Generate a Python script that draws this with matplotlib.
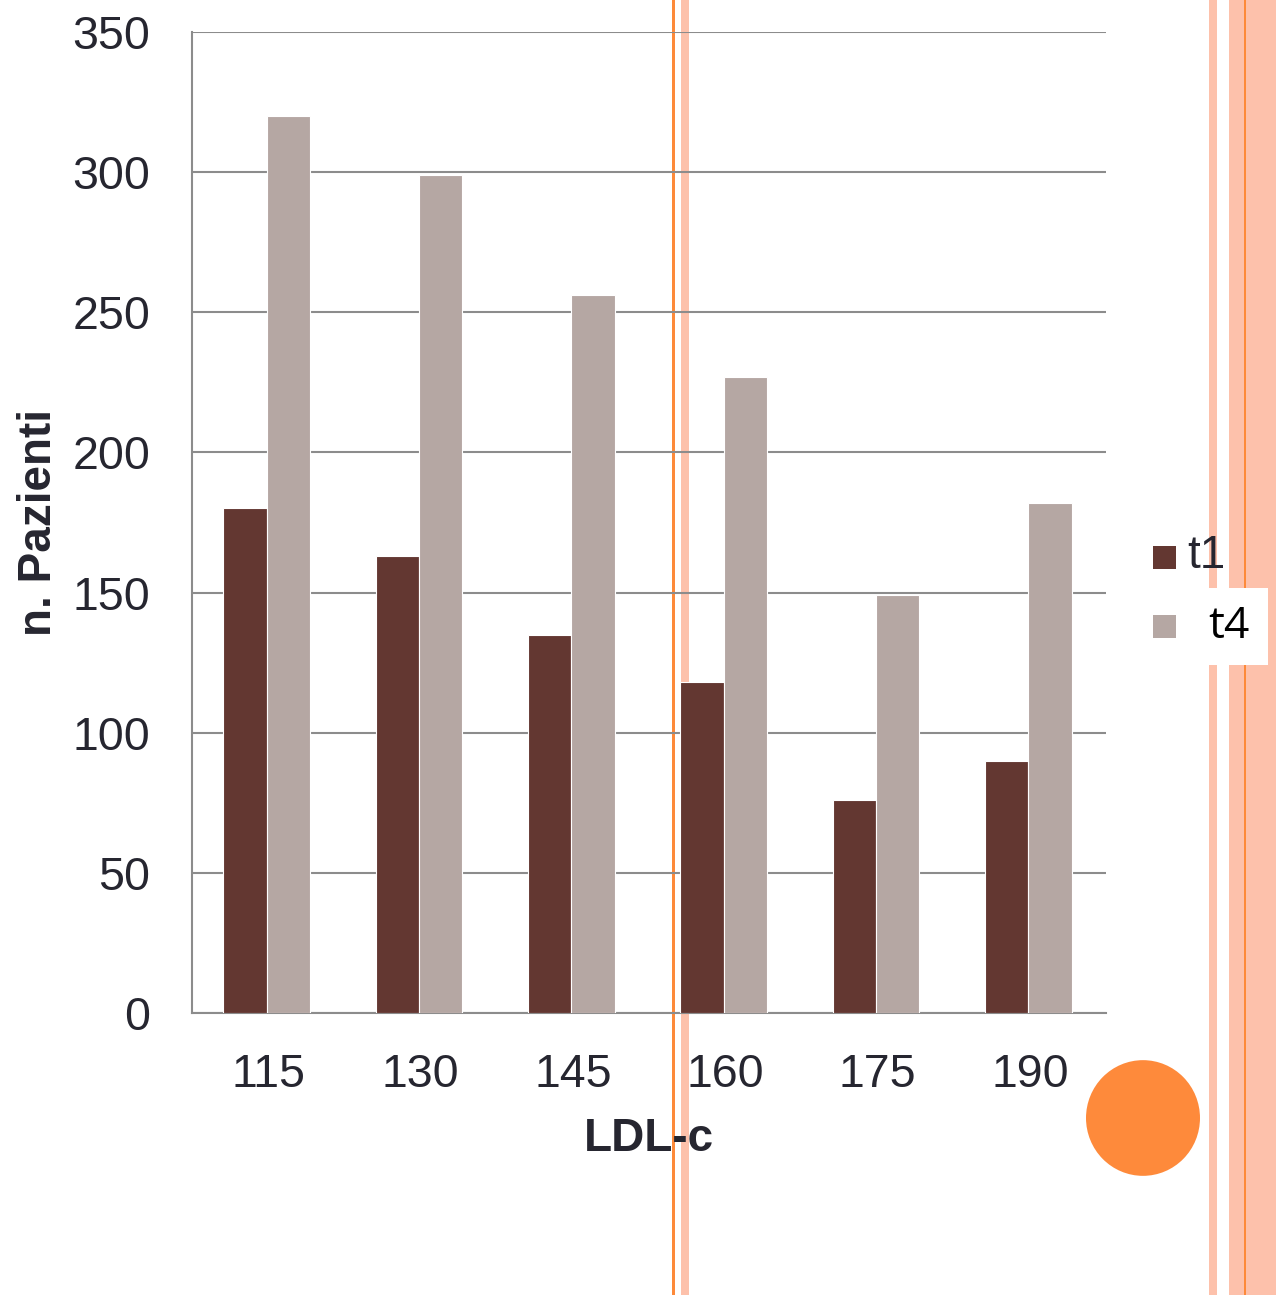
import numpy as np
import matplotlib.pyplot as plt
from matplotlib.patches import Rectangle, Circle

# Pazienti per classe di LDL-c
classi_ldl = ['115', '130', '145', '160', '175', '190']
pazienti_t1 = [180, 163, 135, 118, 76, 90]
pazienti_t4 = [320, 299, 256, 227, 149, 182]

COL_T1 = '#633731'
COL_T4 = '#b5a7a3'
COL_TESTO = '#262630'
COL_GRIGLIA = '#8c8c8c'
ARANCIO = '#fd8a3a'
ROSA = '#fdc1ab'

W, H = 1276, 1295
fig = plt.figure(figsize=(W / 100, H / 100), dpi=100)


def px_rect(x0, x1, y0, y1, colore, z=0):
    # rettangolo in pixel (origine in alto a sinistra)
    r = Rectangle((x0 / W, 1 - y1 / H), (x1 - x0) / W, (y1 - y0) / H,
                  transform=fig.transFigure, facecolor=colore,
                  edgecolor='none', zorder=z)
    fig.add_artist(r)
    return r


# decorazioni della diapositiva (sotto il grafico)
px_rect(672, 675, 0, H, ARANCIO, z=-5)
px_rect(681, 689, 0, H, ROSA, z=-5)
px_rect(1209, 1217, 0, H, ROSA, z=-5)
px_rect(1229, W, 0, H, ROSA, z=-5)
px_rect(1244, 1246, 0, H, ARANCIO, z=-5)
fig.add_artist(Circle((1143 / W, 1 - 1118 / H), 57 / W, transform=fig.transFigure,
                      facecolor='#fe8a3b', edgecolor='none', zorder=-5))

ax = fig.add_axes([192 / W, 1 - 1013 / H, 914 / W, 981 / H])
ax.patch.set_alpha(0)

x = np.arange(len(classi_ldl))
larg = 0.285
ax.bar(x - larg / 2 - 0.01, pazienti_t1, larg, color=COL_T1, edgecolor='white',
       linewidth=0.8, zorder=3)
ax.bar(x + larg / 2 - 0.01, pazienti_t4, larg, color=COL_T4, edgecolor='white',
       linewidth=0.8, zorder=3)

ax.set_xlim(-0.5, len(classi_ldl) - 0.5)
ax.set_ylim(0, 350)
ax.set_yticks(range(0, 351, 50))
ax.set_xticks(x)
ax.set_xticklabels(classi_ldl)
ax.yaxis.grid(True, color=COL_GRIGLIA, linewidth=1.5, zorder=1)
ax.set_axisbelow(True)

for lato in ['top', 'right']:
    ax.spines[lato].set_visible(False)
for lato in ['left', 'bottom']:
    ax.spines[lato].set_color(COL_GRIGLIA)
    ax.spines[lato].set_linewidth(1.5)

ax.tick_params(length=0, labelsize=33.5, labelcolor=COL_TESTO)
ax.tick_params(axis='y', pad=30)
ax.tick_params(axis='x', pad=29)
for t in ax.get_xticklabels() + ax.get_yticklabels():
    t.set_fontfamily('Liberation Sans')

ax.set_ylabel('n. Pazienti', fontsize=33, fontweight='bold', color=COL_TESTO,
              fontfamily='Liberation Sans', labelpad=8)
ax.set_xlabel('LDL-c', fontsize=33, fontweight='bold', color=COL_TESTO,
              fontfamily='Liberation Sans', labelpad=14)

# legenda
px_rect(1190, 1268, 588, 665, 'white', z=1)
px_rect(1153, 1176, 546, 569, COL_T1, z=2)
px_rect(1153, 1176, 615, 638, COL_T4, z=2)
fig.text(1187 / W, 1 - 556 / H, 't1', fontsize=33, color=COL_TESTO,
         fontfamily='Liberation Sans', va='center', ha='left', zorder=3)
fig.text(1208 / W, 1 - 627 / H, 't4', fontsize=32, color='black',
         fontfamily='Open Sans', va='center', ha='left', zorder=3)

fig.savefig('out.png', dpi=100)
